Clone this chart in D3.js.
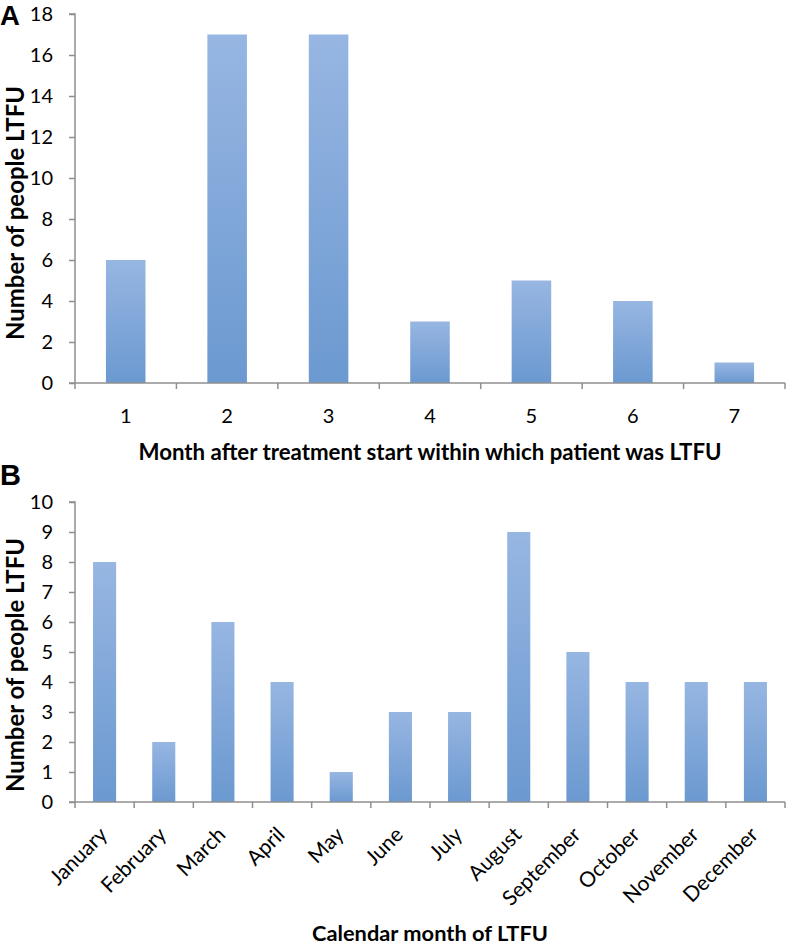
<!DOCTYPE html>
<html><head><meta charset="utf-8">
<script src="https://cdn.jsdelivr.net/npm/d3@7"></script>
<style>body{margin:0;background:#fff}svg{display:block}</style>
</head><body>
<script>
const monthsAfter = ["1","2","3","4","5","6","7"];
const valuesA = [6,17,17,3,5,4,1];
const ticksA = [0,2,4,6,8,10,12,14,16,18];
const calMonths = ["January","February","March","April","May","June","July","August","September","October","November","December"];
const valuesB = [8,2,6,4,1,3,3,9,5,4,4,4];
const ticksB = [0,1,2,3,4,5,6,7,8,9,10];

const W=786,H=947;
const FONT="Lato, 'Open Sans', sans-serif";
const svg=d3.select("body").append("svg").attr("width",W).attr("height",H);
const defs=svg.append("defs");
const g=defs.append("linearGradient").attr("id","barg").attr("x1",0).attr("y1",0).attr("x2",0).attr("y2",1);
g.append("stop").attr("offset","0%").attr("stop-color","#97b6e2");
g.append("stop").attr("offset","100%").attr("stop-color","#6b99d0");

const AX="#8f8f8f";

function fit(sel,target){
  const n=sel.node();
  const fs=parseFloat(sel.attr("font-size"));
  const w=n.getComputedTextLength();
  if(w>0) sel.attr("font-size",(fs*target/w).toFixed(2));
}

function panel(opts){
  const {cats,vals,ticks,top,bottom,letter,letterY,letterSize,xTitle,xTitleY,xTitleW,yTitleC,rotate}=opts;
  const x=d3.scaleBand().domain(cats).range([75,785]).paddingInner(0.61).paddingOuter(0.305);
  const y=d3.scaleLinear().domain([0,d3.max(ticks)]).range([bottom,top]);
  const root=svg.append("g");
  root.selectAll("rect.bar").data(vals).join("rect").attr("class","bar")
    .attr("x",(d,i)=>x(cats[i])).attr("width",x.bandwidth())
    .attr("y",d=>y(d)).attr("height",d=>y(0)-y(d)).attr("fill","url(#barg)");
  const ya=root.append("g").attr("transform","translate(75,0)")
    .call(d3.axisLeft(y).tickValues(ticks).tickSize(6).tickPadding(16).tickFormat(d3.format("d")));
  ya.select(".domain").attr("stroke",AX).attr("stroke-width",1.5).attr("d",`M-6,${top}H0V${bottom}`);
  ya.selectAll(".tick line").attr("stroke",AX).attr("stroke-width",1.5);
  ya.selectAll(".tick text").attr("font-family",FONT).attr("font-size",20).attr("fill","#000");
  const xa=root.append("g");
  xa.append("line").attr("x1",69).attr("x2",785).attr("y1",bottom).attr("y2",bottom).attr("stroke",AX).attr("stroke-width",1.5);
  const step=x.step();
  const edges=cats.map(c=>x(c)-(step-x.bandwidth())/2).concat([x(cats[cats.length-1])+x.bandwidth()+(step-x.bandwidth())/2]);
  xa.selectAll("line.t").data(edges).join("line").attr("class","t")
    .attr("x1",d=>d).attr("x2",d=>d).attr("y1",bottom).attr("y2",bottom+6).attr("stroke",AX).attr("stroke-width",1.5);
  if(!rotate){
    xa.selectAll("text.xl").data(cats).join("text").attr("class","xl")
      .attr("x",d=>x(d)+x.bandwidth()/2).attr("y",bottom+40)
      .attr("text-anchor","middle").attr("font-family",FONT).attr("font-size",20).text(d=>d);
  } else {
    xa.selectAll("text.xl").data(cats).join("text").attr("class","xl")
      .attr("transform",d=>`translate(${x(d)+x.bandwidth()/2+4},${bottom+34}) rotate(-45)`)
      .attr("text-anchor","end").attr("font-family",FONT).attr("font-size",21).text(d=>d);
  }
  const xt=root.append("text").attr("x",430).attr("y",xTitleY).attr("text-anchor","middle")
    .attr("font-family",FONT).attr("font-weight","bold").attr("font-size",22).text(xTitle);
  fit(xt,xTitleW);
  const yt=root.append("text").attr("transform",`translate(24,${yTitleC}) rotate(-90)`).attr("text-anchor","middle")
    .attr("font-family",FONT).attr("font-weight","bold").attr("font-size",22).text("Number of people LTFU");
  fit(yt,254);
  root.append("text").attr("x",0).attr("y",letterY).attr("font-family","'Liberation Sans', Arial, sans-serif")
    .attr("font-weight","bold").attr("font-size",letterSize).text(letter);
}

panel({cats:monthsAfter,vals:valuesA,ticks:ticksA,top:14,bottom:383,letter:"A",letterY:25,letterSize:27.5,
  xTitle:"Month after treatment start within which patient was LTFU",xTitleY:460,xTitleW:583,yTitleC:213,rotate:false});
panel({cats:calMonths,vals:valuesB,ticks:ticksB,top:502,bottom:802,letter:"B",letterY:485,letterSize:29,
  xTitle:"Calendar month of LTFU",xTitleY:941,xTitleW:236,yTitleC:665,rotate:true});
</script>
</body></html>
